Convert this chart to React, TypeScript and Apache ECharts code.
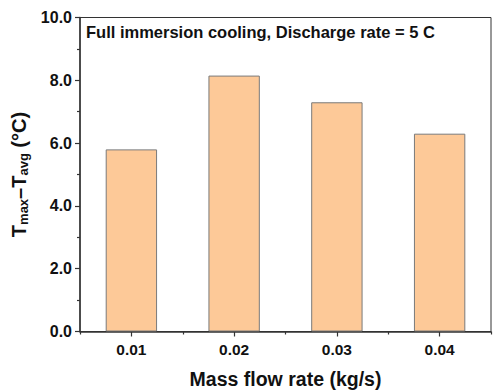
import React, { useEffect, useRef } from "react";
import * as echarts from "echarts";

const categories = ["0.01", "0.02", "0.03", "0.04"];
const values = [5.8, 8.15, 7.3, 6.3];
const annotation = "Full immersion cooling, Discharge rate = 5 C";
const xTitle = "Mass flow rate (kg/s)";

export default function App() {
  const ref = useRef<HTMLDivElement>(null);
  useEffect(() => {
    const chart = echarts.init(ref.current!, null, { renderer: "svg" });
    const font = "'Liberation Sans', Arial, sans-serif";
    const axisColor = "#333";
    chart.setOption({
      animation: false,
      backgroundColor: "#fff",
      textStyle: { fontFamily: font },
      grid: {
        left: 80,
        right: 2,
        top: 17.5,
        bottom: 60.5,
        show: true,
        borderColor: axisColor,
        borderWidth: 1,
        containLabel: false,
        outerBoundsMode: "none",
      },
      xAxis: [
        {
          type: "category",
          data: categories,
          position: "bottom",
          axisLine: { show: true, lineStyle: { color: axisColor, width: 1.5 } },
          axisTick: { show: true, alignWithLabel: true, length: 5, inside: false, lineStyle: { color: axisColor, width: 1.2 } },
          axisLabel: { color: "#111", fontSize: 15.5, fontWeight: "bold", margin: 10, fontFamily: font },
          name: xTitle,
          nameLocation: "middle",
          nameGap: 37,
          nameTextStyle: { color: "#111", fontSize: 19.5, fontWeight: "bold", fontFamily: font },
          splitLine: { show: false },
        },
        {
          type: "category",
          data: categories,
          position: "bottom",
          axisLine: { show: false },
          axisTick: { show: true, length: 3, lineStyle: { color: axisColor, width: 1.2 } },
          axisLabel: { show: false },
          splitLine: { show: false },
        },
      ],
      yAxis: {
        type: "value",
        min: 0,
        max: 10,
        interval: 2,
        axisLine: { show: true, lineStyle: { color: axisColor, width: 1.5 } },
        axisTick: { show: true, length: 5, lineStyle: { color: axisColor, width: 1.2 } },
        minorTick: { show: true, splitNumber: 2, length: 3, lineStyle: { color: axisColor, width: 1.2 } },
        splitLine: { show: false },
        axisLabel: {
          color: "#111",
          fontSize: 16,
          fontWeight: "bold",
          margin: 8,
          fontFamily: font,
          formatter: (v: number) => v.toFixed(1),
        },
        name: "{t|T}{s|max}{t|\u2013T}{s|avg}{t| (\u00b0C)}",
        nameLocation: "middle",
        nameGap: 50,
        nameRotate: 90,
        nameTextStyle: {
          color: "#111",
          fontFamily: font,
          rich: {
            t: { fontSize: 20, fontWeight: "bold", color: "#111", fontFamily: font, lineHeight: 22 },
            s: { fontSize: 13, fontWeight: "bold", color: "#111", fontFamily: font, lineHeight: 22, verticalAlign: "bottom", padding: [9, 0, 0, 0] },
          },
        },
      },
      series: [
        {
          type: "bar",
          data: values,
          barWidth: "50%",
          itemStyle: { color: "#FDC998", borderColor: "#7a7a7a", borderWidth: 1 },
        },
      ],
      graphic: [
        {
          type: "text",
          left: 86,
          top: 23,
          style: { text: annotation, font: `bold 16.5px ${font}`, fill: "#111" },
        },
      ],
    });
    return () => chart.dispose();
  }, []);
  return <div ref={ref} style={{ width: 493, height: 392, position: "absolute", left: 0, top: 0 }} />;
}
